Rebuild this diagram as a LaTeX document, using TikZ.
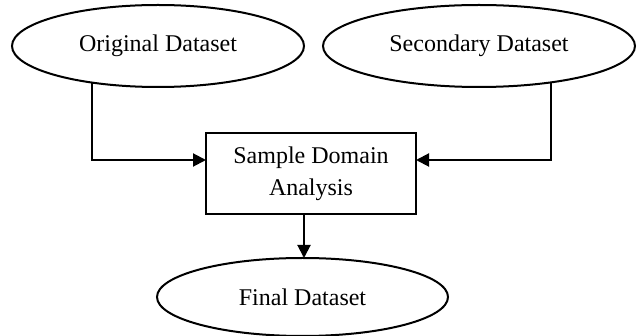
\documentclass[tikz,border=0pt]{standalone}
\usepackage{fontspec}
\setmainfont{Liberation Serif}
\usetikzlibrary{shapes.geometric,arrows.meta}
\tikzset{
  base/.style={draw, line width=1pt, font=\fontsize{12}{16}\selectfont, inner sep=0pt, outer sep=0pt},
  data/.style={base, ellipse},
  proc/.style={base, rectangle, align=center},
  flow/.style={line width=1pt, -{Triangle[length=6.5pt,width=6.5pt]}}
}
\begin{document}
\begin{tikzpicture}[x=0.5pt,y=-0.5pt]
\useasboundingbox (0,0) rectangle (638,336);
\node[data, minimum width=146pt, minimum height=41pt] (orig) at (158,46) {Original Dataset};
\node[data, minimum width=156pt, minimum height=41pt] (sec) at (479,46) {Secondary Dataset};
\node[proc, minimum width=105pt, minimum height=40.5pt] (sda) at (311,173.5) {Sample Domain\\Analysis};
\node[data, minimum width=145.5pt, minimum height=39pt] (fin) at (302.5,297) {Final Dataset};
\coordinate (inL) at ([yshift=6.75pt]sda.west);
\coordinate (inR) at ([yshift=6.75pt]sda.east);
\draw[flow] (orig.209) |- (inL);
\draw[flow] (sec.333) |- (inR);
\draw[flow] (sda.south -| 304,0) -- (fin.north -| 304,0);
\end{tikzpicture}
\end{document}
